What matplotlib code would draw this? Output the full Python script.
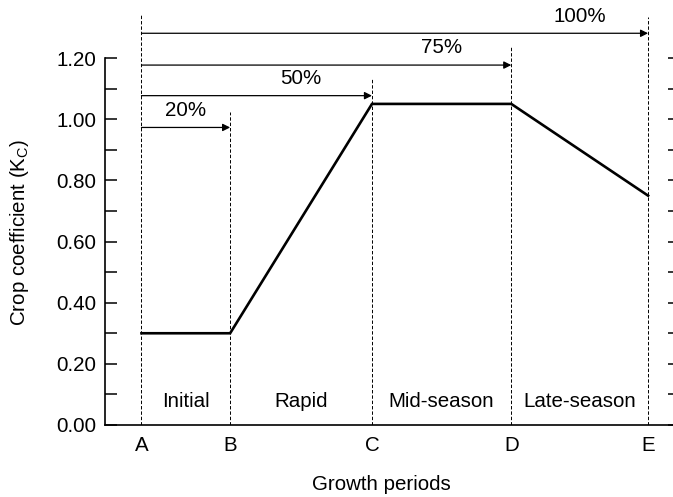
import matplotlib
matplotlib.use("Agg")
import matplotlib.pyplot as plt
import numpy as np

matplotlib.rcParams.update({'font.size': 14.8,
                            'font.family': ['Liberation Sans', 'DejaVu Sans'],
                            'mathtext.default': 'regular'})

# growth period boundaries (percent of season) and crop coefficient at each
periods = ['A', 'B', 'C', 'D', 'E']
period_pos = [0, 17.5, 45.5, 73, 100]
kc = [0.30, 0.30, 1.05, 1.05, 0.75]
stage_names = ['Initial', 'Rapid', 'Mid-season', 'Late-season']
pct_labels = ['20%', '50%', '75%', '100%']
arrow_y = [0.973, 1.077, 1.177, 1.281]
guide_top = [1.345, 1.025, 1.13, 1.235, 1.335]

W, H = 673, 497
fig = plt.figure(figsize=(W / 100, H / 100), dpi=100)
# axes in pixel terms: left spine at x=105, bottom at y=425, right edge past the image
ax = fig.add_axes([105 / W, (H - 425) / H, 575 / W, 425 / H])

ax.plot(period_pos, kc, 'k-', lw=1.9, solid_joinstyle='miter')

ax.vlines(period_pos, 0, guide_top, colors='k', linestyles=(0, (3.5, 2)), lw=0.7)

# arrows from A to each later boundary
for i, (xe, ya) in enumerate(zip(period_pos[1:], arrow_y)):
    ax.annotate('', xy=(xe, ya), xytext=(period_pos[0], ya),
                arrowprops=dict(arrowstyle='-|>', lw=0.9, color='k',
                                mutation_scale=11, shrinkA=0, shrinkB=0))
    xm = (period_pos[i] + period_pos[i + 1]) / 2.
    ax.text(xm, ya + 0.025, pct_labels[i], ha='center', va='bottom')

for i, name in enumerate(stage_names):
    xm = (period_pos[i] + period_pos[i + 1]) / 2.
    ax.text(xm, 0.076, name, ha='center', va='center')

ax.set_xlim(-7.2, 106.3)
ax.set_ylim(0, 425 / 305.8)

ax.set_xticks(period_pos)
ax.set_xticklabels(periods)
ax.tick_params(axis='x', length=0, pad=8)

ax.set_yticks(np.arange(0, 1.21, 0.2))
ax.set_yticklabels(['%.2f' % v for v in np.arange(0, 1.21, 0.2)])
ax.set_yticks(np.arange(0.1, 1.2, 0.2), minor=True)
ax.tick_params(axis='y', which='both', direction='in', length=8.5, width=1.1,
               right=True, pad=6)

ax.spines['top'].set_visible(False)
ax.spines['right'].set_visible(False)
ax.spines['left'].set_linewidth(1.2)
ax.spines['left'].set_bounds(0, 1.2)
ax.spines['bottom'].set_linewidth(1.2)

fig.text(20 / W, 1 - 232 / H, 'Crop coefficient (K$_{C}$)', rotation=90,
         ha='center', va='center')
fig.text(381 / W, 1 - 485 / H, 'Growth periods', ha='center', va='center')

plt.savefig('out.png', dpi=100)
